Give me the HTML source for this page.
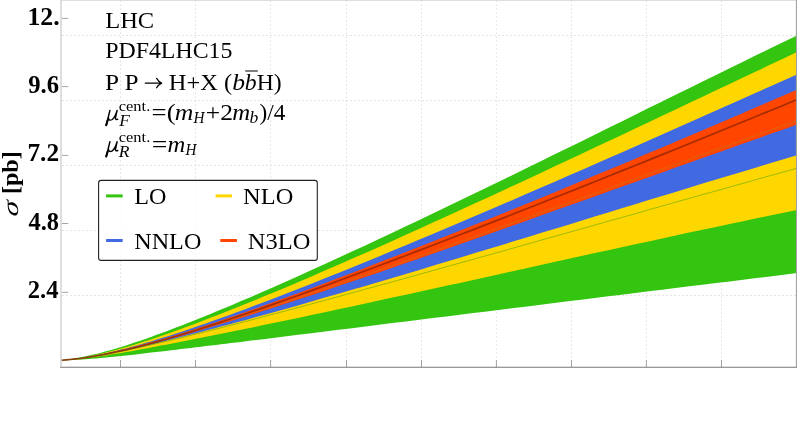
<!DOCTYPE html>
<html><head><meta charset="utf-8"><title>chart</title>
<style>
html,body{margin:0;padding:0;background:#fff;}
body{width:797px;height:423px;overflow:hidden;font-family:"Liberation Serif",serif;}
svg{display:block;}
text{font-family:"Liberation Serif",serif;fill:#000;}
.b{font-weight:bold;}
.i{font-style:italic;}
.bi{font-weight:bold;font-style:italic;}
</style></head><body>
<svg width="797" height="423" viewBox="0 0 797 423">
<rect width="797" height="423" fill="#fff"/>

<g stroke="#d0d0d0" stroke-width="0.75" fill="none">
<line x1="120.5" y1="0.5" x2="120.5" y2="367" stroke-dasharray="1.4,2.6"/>
<line x1="195.5" y1="0.5" x2="195.5" y2="367" stroke-dasharray="1.4,2.6"/>
<line x1="270.6" y1="0.5" x2="270.6" y2="367" stroke-dasharray="1.4,2.6"/>
<line x1="346.5" y1="0.5" x2="346.5" y2="367" stroke-dasharray="1.4,2.6"/>
<line x1="421.5" y1="0.5" x2="421.5" y2="367" stroke-dasharray="1.4,2.6"/>
<line x1="496.4" y1="0.5" x2="496.4" y2="367" stroke-dasharray="1.4,2.6"/>
<line x1="571.5" y1="0.5" x2="571.5" y2="367" stroke-dasharray="1.4,2.6"/>
<line x1="646.4" y1="0.5" x2="646.4" y2="367" stroke-dasharray="1.4,2.6"/>
<line x1="721.5" y1="0.5" x2="721.5" y2="367" stroke-dasharray="1.4,2.6"/>
<line x1="62" y1="35.5" x2="797" y2="35.5" stroke-dasharray="2,2" stroke="#dadada"/>
<line x1="62" y1="100.5" x2="797" y2="100.5" stroke-dasharray="2,2" stroke="#dadada"/>
<line x1="62" y1="165.4" x2="797" y2="165.4" stroke-dasharray="2,2" stroke="#dadada"/>
<line x1="62" y1="230.5" x2="797" y2="230.5" stroke-dasharray="2,2" stroke="#dadada"/>
<line x1="62" y1="295.4" x2="797" y2="295.4" stroke-dasharray="2,2" stroke="#dadada"/>
</g>
<path d="M61.0,360.3 L66.0,359.7 L71.0,359.0 L76.0,358.2 L81.0,357.3 L86.0,356.2 L91.0,355.1 L96.0,353.9 L101.0,352.7 L106.0,351.3 L111.0,349.9 L116.0,348.5 L121.0,346.9 L126.0,345.4 L131.0,343.7 L136.0,342.1 L141.0,340.4 L146.0,338.7 L151.0,336.9 L156.0,335.1 L161.0,333.3 L166.0,331.4 L171.0,329.5 L176.0,327.6 L181.0,325.7 L186.0,323.7 L191.0,321.8 L196.0,319.8 L201.0,317.8 L206.0,315.7 L211.0,313.7 L216.0,311.6 L221.0,309.6 L226.0,307.5 L231.0,305.4 L236.0,303.3 L241.0,301.1 L246.0,299.0 L251.0,296.9 L256.0,294.7 L261.0,292.5 L271.0,288.2 L284.5,282.2 L298.0,276.2 L311.5,270.1 L324.9,264.0 L338.4,257.8 L351.9,251.6 L365.4,245.4 L378.9,239.1 L392.4,232.7 L405.9,226.3 L419.4,219.9 L432.8,213.5 L446.3,207.0 L459.8,200.6 L473.3,194.0 L486.8,187.5 L500.3,181.0 L513.8,174.4 L527.3,167.8 L540.7,161.2 L554.2,154.6 L567.7,148.0 L581.2,141.4 L594.7,134.7 L608.2,128.1 L621.7,121.4 L635.2,114.8 L648.6,108.1 L662.1,101.5 L675.6,94.8 L689.1,88.2 L702.6,81.6 L716.1,74.9 L729.6,68.3 L743.1,61.7 L756.5,55.1 L770.0,48.5 L783.5,41.9 L797.0,35.4 L797.0,273.1 L783.5,274.8 L770.0,276.4 L756.5,278.1 L743.1,279.7 L729.6,281.4 L716.1,283.0 L702.6,284.7 L689.1,286.3 L675.6,288.0 L662.1,289.7 L648.6,291.3 L635.2,293.0 L621.7,294.7 L608.2,296.3 L594.7,298.0 L581.2,299.7 L567.7,301.3 L554.2,303.0 L540.7,304.7 L527.3,306.4 L513.8,308.0 L500.3,309.7 L486.8,311.4 L473.3,313.1 L459.8,314.7 L446.3,316.4 L432.8,318.1 L419.4,319.8 L405.9,321.5 L392.4,323.1 L378.9,324.8 L365.4,326.5 L351.9,328.2 L338.4,329.8 L324.9,331.5 L311.5,333.2 L298.0,334.8 L284.5,336.5 L271.0,338.2 L261.0,339.4 L256.0,340.0 L251.0,340.6 L246.0,341.2 L241.0,341.9 L236.0,342.5 L231.0,343.1 L226.0,343.7 L221.0,344.3 L216.0,344.9 L211.0,345.5 L206.0,346.1 L201.0,346.7 L196.0,347.3 L191.0,347.9 L186.0,348.5 L181.0,349.1 L176.0,349.7 L171.0,350.3 L166.0,350.9 L161.0,351.5 L156.0,352.1 L151.0,352.6 L146.0,353.2 L141.0,353.8 L136.0,354.4 L131.0,354.9 L126.0,355.4 L121.0,356.0 L116.0,356.5 L111.0,357.0 L106.0,357.5 L101.0,358.0 L96.0,358.4 L91.0,358.8 L86.0,359.2 L81.0,359.6 L76.0,359.8 L71.0,360.1 L66.0,360.2 L61.0,360.3Z" fill="#33c50f"/>
<path d="M61.0,360.3 L66.0,359.8 L71.0,359.2 L76.0,358.6 L81.0,357.8 L86.0,356.9 L91.0,355.9 L96.0,354.9 L101.0,353.7 L106.0,352.6 L111.0,351.3 L116.0,350.0 L121.0,348.6 L126.0,347.2 L131.0,345.7 L136.0,344.2 L141.0,342.6 L146.0,341.0 L151.0,339.4 L156.0,337.7 L161.0,336.0 L166.0,334.3 L171.0,332.5 L176.0,330.7 L181.0,328.9 L186.0,327.1 L191.0,325.2 L196.0,323.4 L201.0,321.5 L206.0,319.6 L211.0,317.6 L216.0,315.7 L221.0,313.7 L226.0,311.8 L231.0,309.8 L236.0,307.8 L241.0,305.8 L246.0,303.8 L251.0,301.7 L256.0,299.7 L261.0,297.6 L271.0,293.5 L284.5,287.9 L298.0,282.2 L311.5,276.4 L324.9,270.6 L338.4,264.7 L351.9,258.8 L365.4,252.9 L378.9,246.9 L392.4,240.9 L405.9,234.8 L419.4,228.7 L432.8,222.6 L446.3,216.5 L459.8,210.3 L473.3,204.1 L486.8,197.9 L500.3,191.7 L513.8,185.4 L527.3,179.2 L540.7,172.9 L554.2,166.6 L567.7,160.3 L581.2,154.0 L594.7,147.6 L608.2,141.3 L621.7,134.9 L635.2,128.6 L648.6,122.2 L662.1,115.8 L675.6,109.4 L689.1,103.1 L702.6,96.7 L716.1,90.3 L729.6,83.9 L743.1,77.6 L756.5,71.2 L770.0,64.8 L783.5,58.5 L797.0,52.1 L797.0,209.9 L783.5,212.7 L770.0,215.5 L756.5,218.3 L743.1,221.2 L729.6,224.0 L716.1,226.9 L702.6,229.7 L689.1,232.6 L675.6,235.5 L662.1,238.4 L648.6,241.4 L635.2,244.3 L621.7,247.2 L608.2,250.2 L594.7,253.1 L581.2,256.1 L567.7,259.1 L554.2,262.0 L540.7,265.0 L527.3,268.0 L513.8,271.0 L500.3,273.9 L486.8,276.9 L473.3,279.9 L459.8,282.9 L446.3,285.8 L432.8,288.8 L419.4,291.7 L405.9,294.7 L392.4,297.6 L378.9,300.6 L365.4,303.5 L351.9,306.4 L338.4,309.3 L324.9,312.2 L311.5,315.1 L298.0,317.9 L284.5,320.7 L271.0,323.6 L261.0,325.6 L256.0,326.7 L251.0,327.7 L246.0,328.7 L241.0,329.8 L236.0,330.8 L231.0,331.8 L226.0,332.8 L221.0,333.8 L216.0,334.8 L211.0,335.8 L206.0,336.8 L201.0,337.8 L196.0,338.8 L191.0,339.8 L186.0,340.8 L181.0,341.8 L176.0,342.7 L171.0,343.7 L166.0,344.7 L161.0,345.6 L156.0,346.6 L151.0,347.5 L146.0,348.4 L141.0,349.3 L136.0,350.3 L131.0,351.2 L126.0,352.0 L121.0,352.9 L116.0,353.8 L111.0,354.6 L106.0,355.4 L101.0,356.2 L96.0,356.9 L91.0,357.6 L86.0,358.3 L81.0,358.9 L76.0,359.4 L71.0,359.8 L66.0,360.1 L61.0,360.3Z" fill="#ffd700"/>
<path d="M61.0,360.3 L66.0,359.8 L71.0,359.2 L76.0,358.6 L81.0,357.9 L86.0,357.1 L91.0,356.2 L96.0,355.2 L101.0,354.2 L106.0,353.2 L111.0,352.0 L116.0,350.9 L121.0,349.6 L126.0,348.4 L131.0,347.0 L136.0,345.7 L141.0,344.3 L146.0,342.8 L151.0,341.4 L156.0,339.8 L161.0,338.3 L166.0,336.7 L171.0,335.2 L176.0,333.5 L181.0,331.9 L186.0,330.2 L191.0,328.5 L196.0,326.8 L201.0,325.1 L206.0,323.4 L211.0,321.6 L216.0,319.8 L221.0,318.0 L226.0,316.2 L231.0,314.4 L236.0,312.6 L241.0,310.7 L246.0,308.9 L251.0,307.0 L256.0,305.1 L261.0,303.2 L271.0,299.4 L284.5,294.2 L298.0,289.0 L311.5,283.7 L324.9,278.3 L338.4,272.9 L351.9,267.4 L365.4,261.9 L378.9,256.4 L392.4,250.8 L405.9,245.2 L419.4,239.6 L432.8,233.9 L446.3,228.2 L459.8,222.5 L473.3,216.8 L486.8,211.0 L500.3,205.2 L513.8,199.4 L527.3,193.6 L540.7,187.8 L554.2,181.9 L567.7,176.0 L581.2,170.2 L594.7,164.3 L608.2,158.3 L621.7,152.4 L635.2,146.5 L648.6,140.5 L662.1,134.5 L675.6,128.6 L689.1,122.6 L702.6,116.6 L716.1,110.6 L729.6,104.6 L743.1,98.6 L756.5,92.5 L770.0,86.5 L783.5,80.5 L797.0,74.4 L797.0,155.3 L783.5,159.3 L770.0,163.3 L756.5,167.4 L743.1,171.4 L729.6,175.5 L716.1,179.6 L702.6,183.6 L689.1,187.7 L675.6,191.9 L662.1,196.0 L648.6,200.1 L635.2,204.2 L621.7,208.3 L608.2,212.5 L594.7,216.6 L581.2,220.7 L567.7,224.9 L554.2,229.0 L540.7,233.1 L527.3,237.2 L513.8,241.3 L500.3,245.4 L486.8,249.5 L473.3,253.6 L459.8,257.7 L446.3,261.8 L432.8,265.8 L419.4,269.9 L405.9,273.9 L392.4,277.9 L378.9,281.9 L365.4,285.9 L351.9,289.8 L338.4,293.7 L324.9,297.6 L311.5,301.5 L298.0,305.4 L284.5,309.2 L271.0,313.0 L261.0,315.7 L256.0,317.1 L251.0,318.5 L246.0,319.9 L241.0,321.2 L236.0,322.6 L231.0,323.9 L226.0,325.3 L221.0,326.6 L216.0,328.0 L211.0,329.3 L206.0,330.6 L201.0,331.9 L196.0,333.2 L191.0,334.5 L186.0,335.8 L181.0,337.1 L176.0,338.3 L171.0,339.6 L166.0,340.8 L161.0,342.1 L156.0,343.3 L151.0,344.5 L146.0,345.7 L141.0,346.8 L136.0,348.0 L131.0,349.1 L126.0,350.2 L121.0,351.3 L116.0,352.3 L111.0,353.3 L106.0,354.3 L101.0,355.2 L96.0,356.1 L91.0,357.0 L86.0,357.7 L81.0,358.4 L76.0,359.0 L71.0,359.6 L66.0,360.0 L61.0,360.3Z" fill="#4169e1"/>
<path d="M61.0,360.3 L66.0,359.8 L71.0,359.2 L76.0,358.6 L81.0,357.9 L86.0,357.1 L91.0,356.3 L96.0,355.4 L101.0,354.4 L106.0,353.4 L111.0,352.4 L116.0,351.2 L121.0,350.1 L126.0,348.9 L131.0,347.6 L136.0,346.4 L141.0,345.1 L146.0,343.7 L151.0,342.3 L156.0,340.9 L161.0,339.5 L166.0,338.0 L171.0,336.5 L176.0,335.0 L181.0,333.5 L186.0,331.9 L191.0,330.3 L196.0,328.7 L201.0,327.1 L206.0,325.5 L211.0,323.8 L216.0,322.2 L221.0,320.5 L226.0,318.8 L231.0,317.1 L236.0,315.4 L241.0,313.6 L246.0,311.9 L251.0,310.1 L256.0,308.4 L261.0,306.6 L271.0,303.0 L284.5,298.1 L298.0,293.2 L311.5,288.2 L324.9,283.2 L338.4,278.1 L351.9,272.9 L365.4,267.8 L378.9,262.6 L392.4,257.3 L405.9,252.1 L419.4,246.8 L432.8,241.4 L446.3,236.1 L459.8,230.7 L473.3,225.3 L486.8,219.9 L500.3,214.4 L513.8,208.9 L527.3,203.4 L540.7,197.9 L554.2,192.4 L567.7,186.8 L581.2,181.2 L594.7,175.6 L608.2,170.0 L621.7,164.4 L635.2,158.7 L648.6,153.1 L662.1,147.4 L675.6,141.7 L689.1,136.0 L702.6,130.2 L716.1,124.5 L729.6,118.7 L743.1,112.9 L756.5,107.1 L770.0,101.3 L783.5,95.5 L797.0,89.7 L797.0,124.6 L783.5,129.4 L770.0,134.1 L756.5,138.9 L743.1,143.6 L729.6,148.4 L716.1,153.2 L702.6,158.0 L689.1,162.8 L675.6,167.6 L662.1,172.4 L648.6,177.2 L635.2,182.0 L621.7,186.8 L608.2,191.6 L594.7,196.4 L581.2,201.2 L567.7,206.0 L554.2,210.8 L540.7,215.6 L527.3,220.4 L513.8,225.2 L500.3,230.0 L486.8,234.7 L473.3,239.5 L459.8,244.2 L446.3,249.0 L432.8,253.7 L419.4,258.4 L405.9,263.1 L392.4,267.7 L378.9,272.4 L365.4,277.0 L351.9,281.6 L338.4,286.1 L324.9,290.7 L311.5,295.2 L298.0,299.6 L284.5,304.0 L271.0,308.4 L261.0,311.6 L256.0,313.2 L251.0,314.8 L246.0,316.4 L241.0,317.9 L236.0,319.5 L231.0,321.0 L226.0,322.6 L221.0,324.1 L216.0,325.6 L211.0,327.1 L206.0,328.6 L201.0,330.1 L196.0,331.6 L191.0,333.0 L186.0,334.4 L181.0,335.9 L176.0,337.3 L171.0,338.6 L166.0,340.0 L161.0,341.3 L156.0,342.7 L151.0,343.9 L146.0,345.2 L141.0,346.4 L136.0,347.7 L131.0,348.8 L126.0,350.0 L121.0,351.1 L116.0,352.1 L111.0,353.2 L106.0,354.1 L101.0,355.1 L96.0,355.9 L91.0,356.8 L86.0,357.5 L81.0,358.2 L76.0,358.8 L71.0,359.4 L66.0,359.9 L61.0,360.3Z" fill="#ff4500"/>
<path d="M61.0,360.3 L66.0,359.9 L71.0,359.4 L76.0,358.9 L81.0,358.3 L86.0,357.6 L91.0,356.8 L96.0,356.0 L101.0,355.2 L106.0,354.3 L111.0,353.4 L116.0,352.4 L121.0,351.4 L126.0,350.4 L131.0,349.3 L136.0,348.2 L141.0,347.2 L146.0,346.0 L151.0,344.9 L156.0,343.7 L161.0,342.6 L166.0,341.4 L171.0,340.2 L176.0,339.0 L181.0,337.8 L186.0,336.6 L191.0,335.3 L196.0,334.1 L201.0,332.9 L206.0,331.6 L211.0,330.3 L216.0,329.1 L221.0,327.8 L226.0,326.5 L231.0,325.2 L236.0,323.9 L241.0,322.6 L246.0,321.3 L251.0,320.0 L256.0,318.7 L261.0,317.4 L271.0,314.7 L284.5,311.2 L298.0,307.6 L311.5,303.9 L324.9,300.3 L338.4,296.6 L351.9,292.9 L365.4,289.2 L378.9,285.5 L392.4,281.8 L405.9,278.1 L419.4,274.3 L432.8,270.6 L446.3,266.8 L459.8,263.0 L473.3,259.3 L486.8,255.5 L500.3,251.7 L513.8,247.9 L527.3,244.1 L540.7,240.3 L554.2,236.5 L567.7,232.7 L581.2,228.9 L594.7,225.1 L608.2,221.3 L621.7,217.5 L635.2,213.7 L648.6,209.8 L662.1,206.0 L675.6,202.2 L689.1,198.4 L702.6,194.6 L716.1,190.9 L729.6,187.1 L743.1,183.3 L756.5,179.5 L770.0,175.7 L783.5,172.0 L797.0,168.2" fill="none" stroke="#55a80e" stroke-width="0.6"/>
<path d="M61.0,360.3 L66.0,359.9 L71.0,359.5 L76.0,358.9 L81.0,358.2 L86.0,357.5 L91.0,356.7 L96.0,355.8 L101.0,354.8 L106.0,353.8 L111.0,352.7 L116.0,351.6 L121.0,350.5 L126.0,349.3 L131.0,348.1 L136.0,346.8 L141.0,345.5 L146.0,344.2 L151.0,342.9 L156.0,341.6 L161.0,340.2 L166.0,338.8 L171.0,337.4 L176.0,335.9 L181.0,334.5 L186.0,333.0 L191.0,331.6 L196.0,330.1 L201.0,328.6 L206.0,327.1 L211.0,325.6 L216.0,324.0 L221.0,322.5 L226.0,320.9 L231.0,319.4 L236.0,317.8 L241.0,316.2 L246.0,314.6 L251.0,313.0 L256.0,311.4 L261.0,309.8 L271.0,306.6 L284.5,302.2 L298.0,297.7 L311.5,293.2 L324.9,288.7 L338.4,284.1 L351.9,279.5 L365.4,274.9 L378.9,270.2 L392.4,265.6 L405.9,260.9 L419.4,256.2 L432.8,251.4 L446.3,246.7 L459.8,241.9 L473.3,237.1 L486.8,232.3 L500.3,227.5 L513.8,222.6 L527.3,217.8 L540.7,213.0 L554.2,208.1 L567.7,203.3 L581.2,198.4 L594.7,193.5 L608.2,188.7 L621.7,183.8 L635.2,178.9 L648.6,174.0 L662.1,169.2 L675.6,164.3 L689.1,159.4 L702.6,154.6 L716.1,149.7 L729.6,144.9 L743.1,140.0 L756.5,135.2 L770.0,130.4 L783.5,125.6 L797.0,120.8" fill="none" stroke="#c47a14" stroke-width="0.6"/>
<path d="M61.0,360.3 L66.0,359.9 L71.0,359.4 L76.0,358.9 L81.0,358.3 L86.0,357.6 L91.0,356.8 L96.0,356.0 L101.0,355.1 L106.0,354.1 L111.0,353.1 L116.0,352.0 L121.0,350.9 L126.0,349.8 L131.0,348.6 L136.0,347.4 L141.0,346.1 L146.0,344.8 L151.0,343.4 L156.0,342.1 L161.0,340.6 L166.0,339.2 L171.0,337.8 L176.0,336.3 L181.0,334.8 L186.0,333.3 L191.0,331.7 L196.0,330.2 L201.0,328.6 L206.0,327.0 L211.0,325.4 L216.0,323.7 L221.0,322.1 L226.0,320.5 L231.0,318.8 L236.0,317.1 L241.0,315.4 L246.0,313.7 L251.0,312.0 L256.0,310.3 L261.0,308.6 L271.0,305.1 L284.5,300.3 L298.0,295.5 L311.5,290.6 L324.9,285.7 L338.4,280.8 L351.9,275.8 L365.4,270.8 L378.9,265.7 L392.4,260.6 L405.9,255.5 L419.4,250.4 L432.8,245.2 L446.3,240.0 L459.8,234.8 L473.3,229.6 L486.8,224.4 L500.3,219.1 L513.8,213.8 L527.3,208.5 L540.7,203.2 L554.2,197.8 L567.7,192.5 L581.2,187.1 L594.7,181.7 L608.2,176.3 L621.7,170.9 L635.2,165.5 L648.6,160.1 L662.1,154.6 L675.6,149.2 L689.1,143.7 L702.6,138.2 L716.1,132.7 L729.6,127.2 L743.1,121.7 L756.5,116.2 L770.0,110.7 L783.5,105.2 L797.0,99.6" fill="none" stroke="#761c00" stroke-opacity="0.64" stroke-width="1.7"/>
<rect x="60.2" y="0" width="736.8" height="0.8" fill="#d8d8d8"/>
<rect x="60.2" y="0" width="1.6" height="367.5" fill="#d6d6d6"/>
<rect x="795.9" y="0" width="1.1" height="367.9" fill="#a2a2a2"/>
<rect x="60.2" y="366.7" width="736.8" height="1.2" fill="#8e8e8e"/>
<g stroke="#777" stroke-width="0.65">
<line x1="120.5" y1="360" x2="120.5" y2="367.4"/>
<line x1="195.5" y1="360" x2="195.5" y2="367.4"/>
<line x1="270.6" y1="360" x2="270.6" y2="367.4"/>
<line x1="346.5" y1="360" x2="346.5" y2="367.4"/>
<line x1="421.5" y1="360" x2="421.5" y2="367.4"/>
<line x1="496.4" y1="360" x2="496.4" y2="367.4"/>
<line x1="571.5" y1="360" x2="571.5" y2="367.4"/>
<line x1="646.4" y1="360" x2="646.4" y2="367.4"/>
<line x1="721.5" y1="360" x2="721.5" y2="367.4"/>
<line x1="62" y1="18.4" x2="68.3" y2="18.4"/>
<line x1="62" y1="86.6" x2="68.3" y2="86.6"/>
<line x1="62" y1="155.4" x2="68.3" y2="155.4"/>
<line x1="62" y1="223.5" x2="68.3" y2="223.5"/>
<line x1="62" y1="292.3" x2="68.3" y2="292.3"/>
</g>
<rect x="98.6" y="180.4" width="218.7" height="80" rx="2.5" ry="2.5" fill="#fff" fill-opacity="0.82" stroke="#222" stroke-width="1.1"/>
<line x1="106.1" y1="195.9" x2="122.7" y2="195.9" stroke="#33c50f" stroke-width="3"/>
<line x1="215.6" y1="195.9" x2="232" y2="195.9" stroke="#ffd700" stroke-width="3"/>
<line x1="106.1" y1="240.5" x2="122.7" y2="240.5" stroke="#4169e1" stroke-width="3"/>
<line x1="220.3" y1="240.5" x2="236.9" y2="240.5" stroke="#ff4500" stroke-width="3"/>
<g style="opacity:0.999">
<text class="b" font-size="24.4" transform="translate(27.38,24.8) scale(1.0582,1)">12.</text>
<text class="b" font-size="24.4" transform="translate(28.24,93.3) scale(1.0103,1)">9.6</text>
<text class="b" font-size="24.4" transform="translate(27.44,161.4) scale(1.0393,1)">7.2</text>
<text class="b" font-size="24.4" transform="translate(28.55,229.6) scale(1.0000,1)">4.8</text>
<text class="b" font-size="24.4" transform="translate(27.79,298.0) scale(1.0103,1)">2.4</text>
<text class="" font-size="23.5" transform="translate(105.22,28.4) scale(1.0422,1)">LHC</text>
<text class="" font-size="23.5" transform="translate(105.24,58.1) scale(1.0149,1)">PDF4LHC15</text>
<text class="" font-size="23.5" transform="translate(105.09,89.5) scale(1.0746,1)">P P</text>
<text class="" font-size="23.5" transform="translate(168.82,89.5) scale(1.0387,1)">H+X (</text>
<text class="i" font-size="23.5" transform="translate(232.21,89.5) scale(1.0900,1)">b</text>
<text class="i" font-size="23.5" transform="translate(244.79,89.5) scale(1.0100,1)">b</text>
<text class="" font-size="23.5" transform="translate(256.75,89.5) scale(1.0043,1)">H)</text>
<text class="i" font-size="16.2" transform="translate(119.30,125.6) scale(1.0700,1)">F</text>
<text class="" font-size="15" transform="translate(118.75,110.5) scale(1.0972,1)">cent.</text>
<text class="" font-size="23.5" transform="translate(151.58,120.2) scale(1.1368,1)">=(</text>
<text class="i" font-size="22.5" transform="translate(174.74,120.2) scale(1.1448,1)">m</text>
<text class="i" font-size="16.2" transform="translate(193.44,123.2) scale(0.9412,1)">H</text>
<text class="" font-size="23.5" transform="translate(205.84,120.2) scale(1.0844,1)">+2</text>
<text class="i" font-size="22.5" transform="translate(232.27,120.2) scale(1.1034,1)">m</text>
<text class="i" font-size="16.2" transform="translate(249.56,123.2) scale(1.0857,1)">b</text>
<text class="" font-size="23.5" transform="translate(259.46,120.2) scale(0.9880,1)">)/4</text>
<text class="i" font-size="16.2" transform="translate(118.80,156.8) scale(1.0842,1)">R</text>
<text class="" font-size="15" transform="translate(118.75,141.7) scale(1.0972,1)">cent.</text>
<text class="" font-size="23.5" transform="translate(151.83,151.5) scale(1.1721,1)">=</text>
<text class="i" font-size="22.5" transform="translate(167.58,151.5) scale(1.0966,1)">m</text>
<text class="i" font-size="16.2" transform="translate(185.53,154.5) scale(0.9333,1)">H</text>
<text class="" font-size="23.5" transform="translate(134.23,203.7) scale(1.0286,1)">LO</text>
<text class="" font-size="23.5" transform="translate(243.12,203.7) scale(1.0387,1)">NLO</text>
<text class="" font-size="23.5" transform="translate(134.23,248.5) scale(1.0283,1)">NNLO</text>
<text class="" font-size="23.5" transform="translate(247.82,248.5) scale(1.0421,1)">N3LO</text>
<text class="b" font-size="24" transform="translate(17.8,194.05) rotate(-90) scale(1.004,1)">[pb]</text>
<text class="i" font-size="22.5" transform="translate(18.1,217.2) rotate(-90) scale(1.38,1) skewX(-8)">σ</text>
</g>
<path transform="translate(0,0)" d="M109.9,110.4 L108.3,117 L106.2,125.2 M108.4,116.4 C107.9,119.9 109.9,120.9 112.2,119.5 C114.2,118.2 115.9,114.6 117.1,110.4 M117.1,110.4 L115.5,117.7 Q115.2,120.3 117.8,119.2" fill="none" stroke="#000" stroke-width="1.45" stroke-linecap="round" stroke-linejoin="round"/>
<path transform="translate(0,0)" d="M107.6,120.5 L106.2,125.2" fill="none" stroke="#000" stroke-width="2.1" stroke-linecap="round"/>
<path transform="translate(0,31.3)" d="M109.9,110.4 L108.3,117 L106.2,125.2 M108.4,116.4 C107.9,119.9 109.9,120.9 112.2,119.5 C114.2,118.2 115.9,114.6 117.1,110.4 M117.1,110.4 L115.5,117.7 Q115.2,120.3 117.8,119.2" fill="none" stroke="#000" stroke-width="1.45" stroke-linecap="round" stroke-linejoin="round"/>
<path transform="translate(0,31.3)" d="M107.6,120.5 L106.2,125.2" fill="none" stroke="#000" stroke-width="2.1" stroke-linecap="round"/>
<path d="M145.2,83.1 H161.2 M156.6,78.4 Q158.5,81.6 161.7,83.1 Q158.5,84.6 156.6,87.8" fill="none" stroke="#000" stroke-width="1.2" stroke-linecap="round" stroke-linejoin="round"/>
<rect x="245.2" y="70.5" width="12.6" height="1" fill="#000"/>
</svg></body></html>
